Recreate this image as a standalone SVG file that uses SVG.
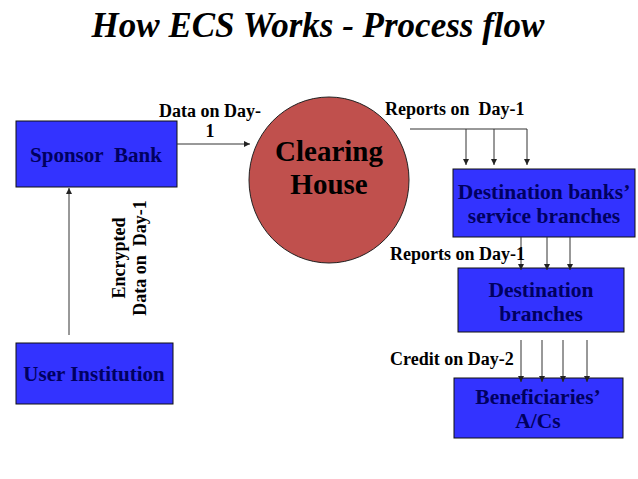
<svg xmlns="http://www.w3.org/2000/svg" width="638" height="479" viewBox="0 0 638 479">
<style>
.box{fill:#3333FF;stroke:#111;stroke-width:1}
.bt{font-weight:bold;fill:#000060;text-anchor:middle}
.lbl{font-weight:bold;font-size:18px;fill:#000}
.ln{stroke:#333;stroke-width:1;fill:none}
.ar{stroke:#333;stroke-width:1;fill:none;marker-end:url(#ah)}
</style>
<defs>
<marker id="ah" markerWidth="6" markerHeight="6" refX="6" refY="3" orient="auto" markerUnits="userSpaceOnUse">
<path d="M0,0 L6,3 L0,6 z" fill="#222"/>
</marker>
</defs>
<rect width="638" height="479" fill="#fff"/>
<g font-family="Liberation Serif, serif">
<text x="318" y="37" font-weight="bold" font-style="italic" font-size="35" text-anchor="middle" fill="#000">How ECS Works - Process flow</text>

<g id="sponsor">
<rect class="box" x="16" y="121" width="161" height="66"/>
<text class="bt" x="96" y="162" font-size="21">Sponsor&#160; Bank</text>
</g>
<g id="clearing">
<ellipse cx="329" cy="180" rx="80" ry="83" fill="#C0504D" stroke="#222" stroke-width="1"/>
<text class="bt" x="329" y="161" font-size="29" style="fill:#000">Clearing</text>
<text class="bt" x="329" y="194" font-size="29" style="fill:#000">House</text>
</g>
<g id="destbanks">
<rect class="box" x="453" y="169" width="182" height="68"/>
<text class="bt" x="544" y="199" font-size="21.5">Destination banks’</text>
<text class="bt" x="544" y="223" font-size="21.5">service branches</text>
</g>
<g id="destbranches">
<rect class="box" x="458" y="268" width="166" height="64"/>
<text class="bt" x="541" y="297" font-size="21.5">Destination</text>
<text class="bt" x="541" y="321" font-size="21.5">branches</text>
</g>
<g id="beneficiaries">
<rect class="box" x="454" y="378" width="169" height="60"/>
<text class="bt" x="538" y="404" font-size="21.5">Beneficiaries’</text>
<text class="bt" x="538" y="428" font-size="21.5">A/Cs</text>
</g>
<g id="user">
<rect class="box" x="16" y="343" width="157" height="61"/>
<text class="bt" x="94" y="381" font-size="21">User Institution</text>
</g>

<g id="connectors">
<line class="ar" x1="177" y1="144" x2="250" y2="144"/>
<line class="ar" x1="69" y1="335" x2="69" y2="188"/>
<line class="ln" x1="410" y1="129" x2="527" y2="129"/>
<line class="ar" x1="466" y1="129" x2="466" y2="165"/>
<line class="ar" x1="494" y1="129" x2="494" y2="165"/>
<line class="ar" x1="527" y1="129" x2="527" y2="165"/>
<line class="ar" x1="521" y1="237" x2="521" y2="270"/>
<line class="ar" x1="547" y1="237" x2="547" y2="270"/>
<line class="ar" x1="570" y1="237" x2="570" y2="270"/>
<line class="ar" x1="521" y1="340" x2="521" y2="382"/>
<line class="ar" x1="542" y1="340" x2="542" y2="382"/>
<line class="ar" x1="563" y1="340" x2="563" y2="382"/>
<line class="ar" x1="587" y1="340" x2="587" y2="382"/>
</g>

<g id="labels">
<text class="lbl" x="210" y="117" text-anchor="middle">Data on Day-</text>
<text class="lbl" x="210" y="137" text-anchor="middle">1</text>
<text class="lbl" x="385" y="115">Reports on&#160; Day-1</text>
<text class="lbl" x="390" y="260">Reports on Day-1</text>
<text class="lbl" x="390" y="365">Credit on Day-2</text>
<text class="lbl" transform="translate(125,258) rotate(-90)" text-anchor="middle">Encrypted</text>
<text class="lbl" transform="translate(146,258) rotate(-90)" text-anchor="middle">Data on&#160; Day-1</text>
</g>
</g>
</svg>
